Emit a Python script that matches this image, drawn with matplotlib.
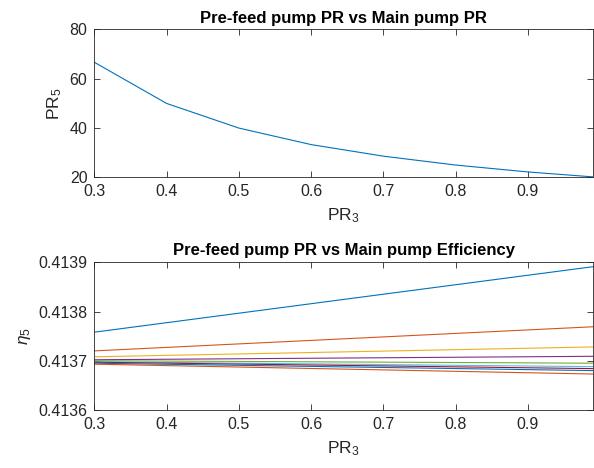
import numpy as np
import matplotlib
matplotlib.use("Agg")
import matplotlib.pyplot as plt

plt.rcParams['font.family'] = ['Liberation Sans', 'DejaVu Sans']
plt.rcParams['mathtext.fontset'] = 'custom'
plt.rcParams['mathtext.rm'] = 'Liberation Sans'
plt.rcParams['mathtext.it'] = 'Liberation Sans:italic'

# --- Data ---
pr3 = [0.3, 0.4, 0.5, 0.6, 0.7, 0.8, 0.9, 0.99]
pr5 = [66.7, 50.0, 40.0, 33.3, 28.6, 25.0, 22.2, 20.2]

# efficiency curves: value at PR3 = 0.3 and at PR3 = 0.99
eta_start = [0.413758, 0.413720, 0.413708, 0.413702, 0.413700,
             0.413698, 0.413697, 0.413695, 0.413693]
eta_end = [0.413891, 0.413769, 0.413728, 0.413709, 0.413695,
           0.413688, 0.413684, 0.413680, 0.413673]
eta_x = [0.3, 0.99]

# MATLAB default colour order
colors = ["#0072BD", "#D95319", "#EDB120", "#7E2F8E", "#77AC30", "#4DBEEE", "#A2142F"]

TXT = "#262626"
SPINE = "#262626"

fig = plt.figure(figsize=(5.94, 4.68), dpi=100)
ax1 = fig.add_axes([0.1588, 0.621, 0.8395, 0.316])
ax2 = fig.add_axes([0.1588, 0.124, 0.8395, 0.3156])

ax1.plot(pr3, pr5, color=colors[0], lw=0.8)
ax1.set_xlim(0.3, 0.99)
ax1.set_ylim(20, 80)
ax1.set_yticks([20, 40, 60, 80])
ax1.set_title("Pre-feed pump PR vs Main pump PR", fontsize=12, fontweight="bold", pad=5)
ax1.set_ylabel("PR$_5$", fontsize=12.5, color=TXT, labelpad=4)

for i in range(len(eta_start)):
    ax2.plot(eta_x, [eta_start[i], eta_end[i]], color=colors[i % len(colors)], lw=0.8)
ax2.set_xlim(0.3, 0.99)
ax2.set_ylim(0.4136, 0.4139)
ax2.set_yticks([0.4136, 0.4137, 0.4138, 0.4139])
ax2.set_yticklabels(["0.4136", "0.4137", "0.4138", "0.4139"])
ax2.set_title("Pre-feed pump PR vs Main pump Efficiency", fontsize=12, fontweight="bold", pad=5)
ax2.set_ylabel("$\\eta_5$", fontsize=12.5, color=TXT, labelpad=4)

for ax in (ax1, ax2):
    ax.set_xticks([0.3, 0.4, 0.5, 0.6, 0.7, 0.8, 0.9])
    ax.set_xticklabels(["0.3", "0.4", "0.5", "0.6", "0.7", "0.8", "0.9"])
    ax.set_xlabel("PR$_3$", fontsize=12.5, color=TXT, labelpad=5)
    ax.tick_params(direction="in", top=True, right=True, length=4, width=0.6,
                   labelsize=11.5, colors=TXT, pad=5)
    for s in ax.spines.values():
        s.set_color(SPINE)
        s.set_linewidth(0.6)

fig.savefig("out.png", dpi=100)
